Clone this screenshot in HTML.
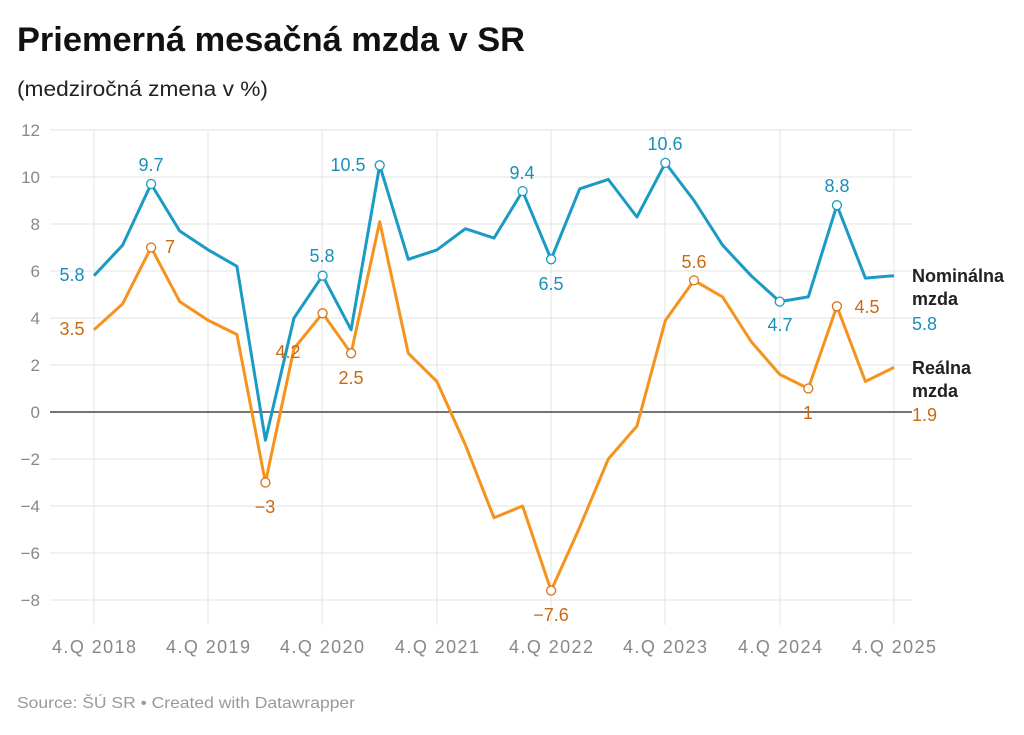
<!DOCTYPE html>
<html><head><meta charset="utf-8"><style>
body{margin:0;background:#fff;width:1024px;height:730px;overflow:hidden;font-family:"Liberation Sans",sans-serif}
</style></head><body>
<svg width="1024" height="730" xmlns="http://www.w3.org/2000/svg" font-family="Liberation Sans, sans-serif">
<text x="17" y="51" font-size="34" font-weight="bold" fill="#111" textLength="508" lengthAdjust="spacingAndGlyphs">Priemerná mesačná mzda v SR</text>
<text x="17" y="96" font-size="21" fill="#222" textLength="251" lengthAdjust="spacingAndGlyphs">(medziročná zmena v %)</text>
<g stroke="#e3e3e3" stroke-width="1">
<line x1="50" x2="912" y1="130" y2="130"/><line x1="50" x2="912" y1="177" y2="177"/><line x1="50" x2="912" y1="224" y2="224"/><line x1="50" x2="912" y1="271" y2="271"/><line x1="50" x2="912" y1="318" y2="318"/><line x1="50" x2="912" y1="365" y2="365"/><line x1="50" x2="912" y1="459" y2="459"/><line x1="50" x2="912" y1="506" y2="506"/><line x1="50" x2="912" y1="553" y2="553"/><line x1="50" x2="912" y1="600" y2="600"/>
<line x1="94" x2="94" y1="130" y2="625"/><line x1="208" x2="208" y1="130" y2="625"/><line x1="322" x2="322" y1="130" y2="625"/><line x1="437" x2="437" y1="130" y2="625"/><line x1="551" x2="551" y1="130" y2="625"/><line x1="665" x2="665" y1="130" y2="625"/><line x1="780" x2="780" y1="130" y2="625"/><line x1="894" x2="894" y1="130" y2="625"/>
</g>
<line x1="50" x2="912" y1="412" y2="412" stroke="#222" stroke-width="1.2"/>
<g font-size="17" fill="#888" text-anchor="end">
<text x="40" y="136">12</text><text x="40" y="183">10</text><text x="40" y="230">8</text><text x="40" y="277">6</text><text x="40" y="324">4</text><text x="40" y="371">2</text><text x="40" y="418">0</text><text x="40" y="465">−2</text><text x="40" y="512">−4</text><text x="40" y="559">−6</text><text x="40" y="606">−8</text>
</g>
<g font-size="18" fill="#888" text-anchor="middle">
<text x="94" y="653" textLength="84" lengthAdjust="spacing">4.Q 2018</text><text x="208" y="653" textLength="84" lengthAdjust="spacing">4.Q 2019</text><text x="322" y="653" textLength="84" lengthAdjust="spacing">4.Q 2020</text><text x="437" y="653" textLength="84" lengthAdjust="spacing">4.Q 2021</text><text x="551" y="653" textLength="84" lengthAdjust="spacing">4.Q 2022</text><text x="665" y="653" textLength="84" lengthAdjust="spacing">4.Q 2023</text><text x="780" y="653" textLength="84" lengthAdjust="spacing">4.Q 2024</text><text x="894" y="653" textLength="84" lengthAdjust="spacing">4.Q 2025</text>
</g>
<polyline fill="none" stroke="#1b9bc4" stroke-width="3" stroke-linejoin="round" points="94,275.7 122.6,245.2 151.1,184 179.7,231 208.3,249.9 236.9,266.3 265.4,440.2 294,318 322.6,275.7 351.1,329.8 379.7,165.3 408.3,259.3 436.9,249.9 465.4,228.7 494,238.1 522.6,191.1 551.1,259.3 579.7,188.8 608.3,179.4 636.9,217 665.4,162.9 694,200.5 722.6,245.2 751.1,275.7 779.7,301.6 808.3,296.9 836.9,205.2 865.4,278.1 894,275.7"/>
<polyline fill="none" stroke="#f5931e" stroke-width="3" stroke-linejoin="round" points="94,329.8 122.6,303.9 151.1,247.5 179.7,301.6 208.3,320.4 236.9,334.5 265.4,482.5 294,348.6 322.6,313.3 351.1,353.3 379.7,221.7 408.3,353.3 436.9,381.5 465.4,444.9 494,517.8 522.6,506 551.1,590.6 579.7,527.2 608.3,459 636.9,426.1 665.4,320.4 694,280.4 722.6,296.9 751.1,341.5 779.7,374.4 808.3,388.5 836.9,306.3 865.4,381.5 894,367.4"/>
<g fill="#fff" stroke-width="1.3" stroke="#1b9bc4">
<circle cx="151.1" cy="184" r="4.5"/><circle cx="322.6" cy="275.7" r="4.5"/><circle cx="379.7" cy="165.3" r="4.5"/><circle cx="522.6" cy="191.1" r="4.5"/><circle cx="551.1" cy="259.3" r="4.5"/><circle cx="665.4" cy="162.9" r="4.5"/><circle cx="779.7" cy="301.6" r="4.5"/><circle cx="836.9" cy="205.2" r="4.5"/>
</g>
<g fill="#fff" stroke-width="1.3" stroke="#d9731a">
<circle cx="151.1" cy="247.5" r="4.5"/><circle cx="265.4" cy="482.5" r="4.5"/><circle cx="322.6" cy="313.3" r="4.5"/><circle cx="351.1" cy="353.3" r="4.5"/><circle cx="551.1" cy="590.6" r="4.5"/><circle cx="694" cy="280.4" r="4.5"/><circle cx="808.3" cy="388.5" r="4.5"/><circle cx="836.9" cy="306.3" r="4.5"/>
</g>
<g font-size="18" fill="#1b8fb8" text-anchor="middle">
<text x="72" y="281">5.8</text><text x="151" y="171">9.7</text><text x="322" y="262">5.8</text><text x="348" y="171">10.5</text><text x="522" y="179">9.4</text><text x="551" y="290">6.5</text><text x="665" y="150">10.6</text><text x="780" y="331">4.7</text><text x="837" y="192">8.8</text>
</g>
<g font-size="18" fill="#c96a10" text-anchor="middle">
<text x="72" y="335">3.5</text><text x="170" y="253">7</text><text x="265" y="513">−3</text><text x="288" y="358">4.2</text><text x="351" y="384">2.5</text><text x="551" y="621">−7.6</text><text x="694" y="268">5.6</text><text x="808" y="419">1</text><text x="867" y="313">4.5</text>
</g>
<g font-size="18">
<text x="912" y="282" font-weight="bold" fill="#222">Nominálna</text>
<text x="912" y="305" font-weight="bold" fill="#222">mzda</text>
<text x="912" y="330" fill="#1b8fb8">5.8</text>
<text x="912" y="374" font-weight="bold" fill="#222">Reálna</text>
<text x="912" y="397" font-weight="bold" fill="#222">mzda</text>
<text x="912" y="421" fill="#c96a10">1.9</text>
</g>
<text x="17" y="708" font-size="16" fill="#999" textLength="338" lengthAdjust="spacingAndGlyphs">Source: ŠÚ SR • Created with Datawrapper</text>
</svg>
</body></html>
